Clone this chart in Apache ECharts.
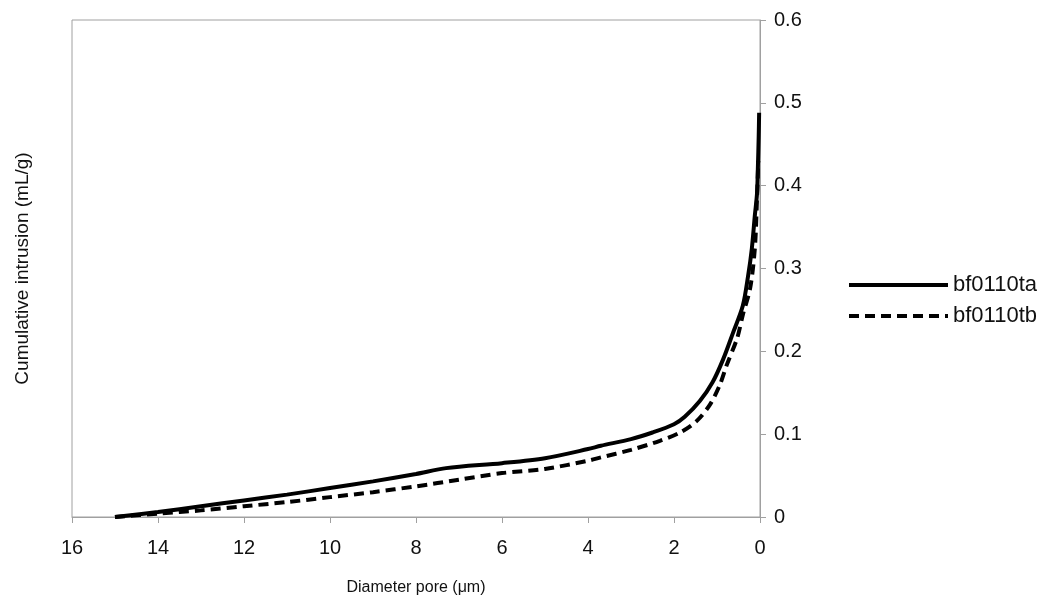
<!DOCTYPE html>
<html>
<head>
<meta charset="utf-8">
<script src="https://cdn.jsdelivr.net/npm/echarts@6/dist/echarts.min.js"></script>
<style>
html,body{margin:0;padding:0;background:#fff;}
#chart{width:1048px;height:601px;}
</style>
</head>
<body>
<div id="chart"></div>
<script>
// Diameter pore (µm) and cumulative intrusion (mL/g)
var seriesNames = ['bf0110ta', 'bf0110tb'];
var diamA = [15, 14, 13, 12, 11, 10, 9, 8, 7.3, 6, 5, 4, 3.7, 3, 2.5, 2, 1.75, 1.4, 1.1, 0.86, 0.63, 0.4, 0.28, 0.19, 0.12, 0.07, 0.05, 0.03, 0.02];
var intrA = [0, 0.006, 0.013, 0.020, 0.027, 0.035, 0.043, 0.052, 0.059, 0.065, 0.071, 0.082, 0.086, 0.094, 0.102, 0.112, 0.121, 0.140, 0.163, 0.190, 0.222, 0.255, 0.290, 0.324, 0.364, 0.390, 0.420, 0.460, 0.488];
var diamB = [15, 14, 13, 12, 11, 10, 9, 8, 7, 6, 5, 4, 3.7, 3, 2.33, 1.86, 1.47, 1.16, 0.93, 0.77, 0.53, 0.4, 0.23, 0.12, 0.07, 0.04];
var intrB = [0, 0.004, 0.008, 0.013, 0.018, 0.024, 0.030, 0.037, 0.045, 0.053, 0.058, 0.068, 0.072, 0.081, 0.092, 0.102, 0.116, 0.136, 0.160, 0.184, 0.216, 0.244, 0.276, 0.324, 0.384, 0.430];
var xTicks = [0, 2, 4, 6, 8, 10, 12, 14, 16];
var yTicks = [0, 0.1, 0.2, 0.3, 0.4, 0.5, 0.6];

function pairs(xs, ys) { return xs.map(function (x, i) { return [x, ys[i]]; }); }

var FONT = '"Liberation Sans", Arial, sans-serif';
var solidIcon = 'path://M0,0 L99,0 L99,4 L0,4 Z';
var dashedIcon = 'path://M0,0 L10,0 L10,4 L0,4 Z M16,0 L26,0 L26,4 L16,4 Z M32,0 L42,0 L42,4 L32,4 Z M48,0 L58,0 L58,4 L48,4 Z M64,0 L74,0 L74,4 L64,4 Z M80,0 L90,0 L90,4 L80,4 Z M96,0 L99,0 L99,4 L96,4 Z';
var chart = echarts.init(document.getElementById('chart'), null, {renderer: 'canvas'});
chart.setOption({
  animation: false,
  backgroundColor: '#fff',
  grid: {left: 72, right: 288, top: 20, bottom: 81, show: true, borderColor: '#a0a0a0', borderWidth: 1, containLabel: false},
  legend: {
    orient: 'vertical', left: 844, top: 269, itemWidth: 99, itemHeight: 4, itemGap: 9,
    textStyle: {fontFamily: FONT, fontSize: 22, color: '#111'},
    data: [{name: seriesNames[0], icon: solidIcon}, {name: seriesNames[1], icon: dashedIcon}]
  },
  xAxis: {
    type: 'value', inverse: true, min: xTicks[0], max: xTicks[xTicks.length - 1], interval: 2,
    name: 'Diameter pore (μm)', nameLocation: 'middle', nameGap: 63,
    nameTextStyle: {fontFamily: FONT, fontSize: 16, color: '#111'},
    axisLine: {show: true, lineStyle: {color: '#a0a0a0', width: 1}},
    axisTick: {show: true, length: 6, lineStyle: {color: '#a0a0a0'}},
    axisLabel: {fontFamily: FONT, fontSize: 20, color: '#111', margin: 21},
    splitLine: {show: false}
  },
  yAxis: [{
    type: 'value', position: 'right', min: yTicks[0], max: yTicks[yTicks.length - 1], interval: 0.1,
    axisLine: {show: true, lineStyle: {color: '#a0a0a0', width: 1}},
    axisTick: {show: true, length: 6, lineStyle: {color: '#a0a0a0'}},
    axisLabel: {fontFamily: FONT, fontSize: 20, color: '#111', margin: 14},
    splitLine: {show: false}
  }, {
    type: 'value', position: 'left', min: 0, max: 0.6,
    name: 'Cumulative intrusion (mL/g)', nameLocation: 'middle', nameGap: 40, nameRotate: 90,
    nameTextStyle: {fontFamily: FONT, fontSize: 19, color: '#111'},
    axisLine: {show: false}, axisTick: {show: false}, axisLabel: {show: false}, splitLine: {show: false}
  }],
  series: [{
    name: seriesNames[0], type: 'line', data: pairs(diamA, intrA), smooth: 0.3,
    symbol: 'none', lineStyle: {color: '#000', width: 4}, itemStyle: {color: '#000'}
  }, {
    name: seriesNames[1], type: 'line', data: pairs(diamB, intrB), smooth: 0.3,
    symbol: 'none', lineStyle: {color: '#000', width: 4, type: [10, 6]}, itemStyle: {color: '#000'}
  }]
});
</script>
</body>
</html>
